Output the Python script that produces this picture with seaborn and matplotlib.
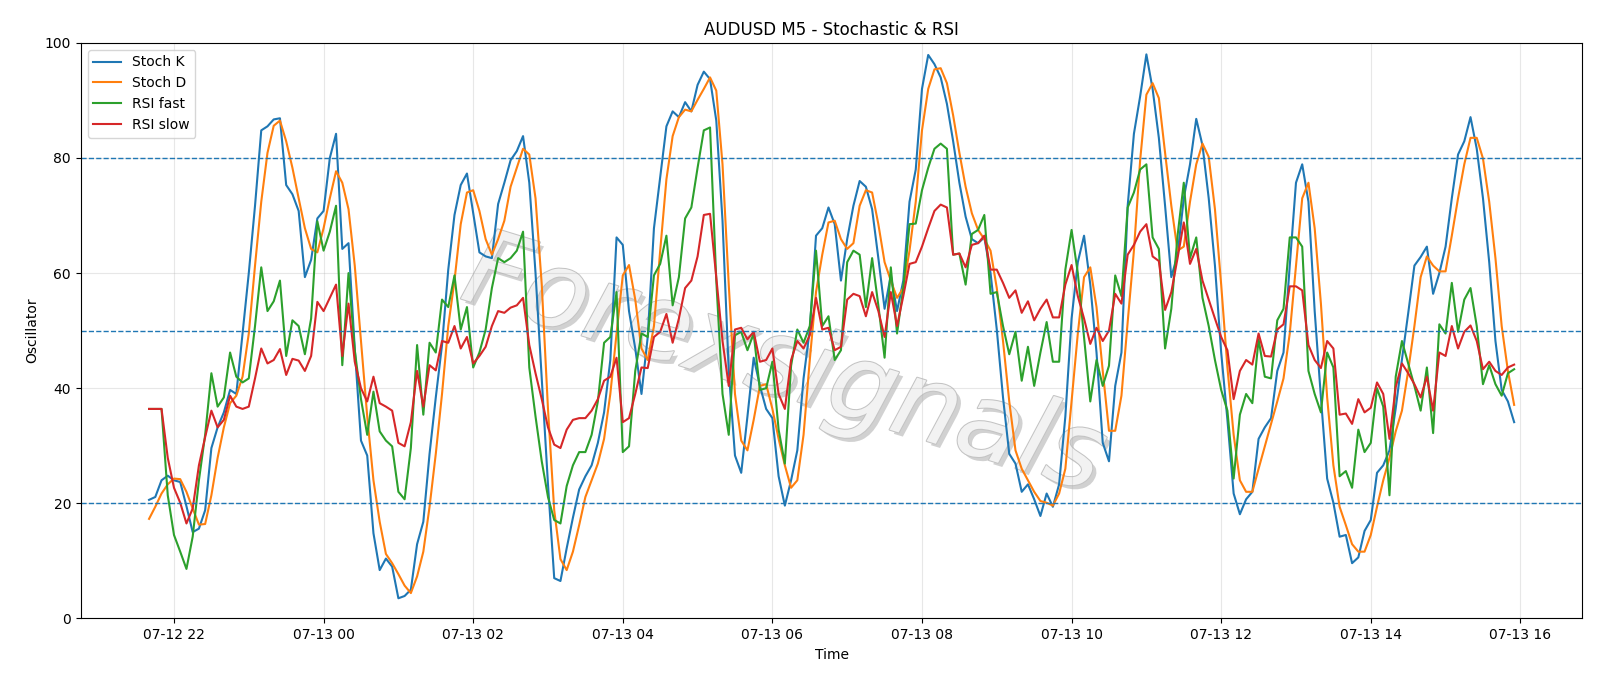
import pandas as pd
import numpy as np
import matplotlib
matplotlib.use('Agg')
import matplotlib.pyplot as plt
import matplotlib.dates as mdates
import matplotlib.patheffects as pe
import seaborn as sns

# M5 bars, 07-12 21:40 -> 07-13 15:55
start_time = '2024-07-12 21:40'
n_bars = 220

stoch_k = [20.6, 21.1, 24, 24.8, 24, 23.7, 19.5, 15, 15.6, 18.8, 29.6, 33.2, 35.8, 39.7, 39, 49.5, 60, 71.7, 84.8, 85.5,
           86.7, 86.9, 75.3, 73.7, 70.8, 59.3, 62.3, 69.5,
           70.8, 80, 84.2, 64.2, 65.2, 46.9, 30.9, 28.3, 14.8, 8.4, 10.4, 9, 3.5, 3.9, 5, 12.9, 16.8, 28.6, 38.4, 47.5,
           60.6, 70.1, 75.3, 77.3, 70.4, 63.6, 62.9, 62.6, 72,
           75.7, 79.6, 81.2, 83.8, 75.7, 60, 41.7, 23.3, 7, 6.5, 12.2, 17.5, 22.4, 24.7, 26.6, 30.5, 35.8, 44.9, 66.2,
           64.9, 53.4, 46.9, 39, 48.9, 67.8, 76.7, 85.5, 88.1, 87.1,
           89.7, 88.1, 92.7, 95, 93.7, 86.5, 69.1, 43, 28.3, 25.3, 35.1, 45.3, 40.4, 36.4, 34.8, 24.7, 19.6, 24, 29.2,
           41.7, 50.2, 66.5, 67.8, 71.4, 68.5, 58.7, 65.9, 71.7, 76,
           75, 71.1, 62.6, 53.8, 59.6, 53.4, 58.7, 72.4, 78, 92, 97.9, 96.3, 94, 89.4, 82.9, 75.7, 69.8, 65.9, 65.2,
           66.2, 60, 50.2, 38.4, 28.6, 26.9, 22, 23.3, 20.7, 17.8,
           21.7, 19.4, 23.3, 35.1, 52.1, 61.9, 66.5, 58, 46.2, 30.5, 27.3, 40.4, 46.2, 71.7, 84.2, 90.7, 98, 92, 83.5,
           71.7, 59.3, 63.2, 73, 78.9, 86.8, 82.2, 73, 61.3,
           46.2, 34.5, 21.7, 18.1, 20.7, 22, 31.2, 33.2, 34.8, 43, 46.2, 61.3, 75.7, 78.9, 72.4, 53.4, 38.4, 24.3, 20.1,
           14.2, 14.5, 9.6, 10.6, 15.2, 17.1, 25.3, 26.6, 29.2, 36.5,
           45, 53, 61.3, 62.8, 64.6, 56.4, 60, 64.6, 73, 80.6, 82.9, 87.1, 81.6, 73, 61.9, 48.2, 39.7, 37.7, 34.1]

stoch_d = [17.3, 19.4, 21.7, 23.3, 24.3, 24.2, 22, 19.1, 16.3, 16.4, 21.4, 27.9, 33.2, 37.4, 38.7, 42, 49.5, 61.3, 72.4,
           80.9, 85.6, 86.5, 82.9, 78.3, 73, 67.8, 64.2, 63.6,
           67.8, 73, 77.7, 75.7, 71.1, 61.3, 48.2, 35.1, 24, 16.8, 11.2, 9.6, 7.7, 5.7, 4.4, 7.3, 11.6, 19.4, 28.6, 39,
           50.8, 58.7, 68.5, 74, 74.4, 70.8, 65.9, 63.2, 65.9,
           69.1, 75, 78.3, 81.6, 80.6, 73, 58, 36.4, 18.8, 10.3, 8.4, 11.6, 16.2, 21.1, 24, 26.9, 31.2, 39, 49.5, 59.6,
           61.4, 55.4, 46.9, 44.9, 50.8, 63.9, 76.3, 83.8, 87.1,
           88.4, 88.1, 90.1, 92, 94, 91.7, 78.9, 58, 39, 30.9, 29.2, 34.5, 40.4, 40.7, 36.4, 31.2, 26.6, 22.7, 24, 31.9,
           44.9, 56.7, 63.2, 68.8, 69.1, 65.9, 64.2, 65.2, 71.7,
           74.4, 74, 68.5, 61.9, 58.7, 55.7, 57.4, 63.9, 72.4, 84.8, 92, 95.4, 95.6, 93, 87.4, 80.9, 75, 70.4, 67.5,
           65.9, 63.9, 57.4, 48.2, 37.7, 29.2, 26, 24, 22, 20.4,
           20.1, 19.6, 21.7, 26, 37.7, 49.5, 59.3, 61, 54.1, 43, 32.6, 32.6, 38.7, 51.5, 63.9, 79.6, 91, 93, 90.4, 80.9,
           71.7, 63.9, 64.6, 72.4, 78.9, 82.5, 80.2, 71.1,
           58, 43.6, 31.9, 24, 22, 22, 26, 29.9, 33.8, 37.7, 41.7, 49.5, 61.3, 73, 75.7, 67.8, 54.7, 38.4, 26.6, 19.4,
           16.2, 12.9, 11.6, 11.6, 14.5, 19.4, 24, 27.9, 32.5,
           36.1, 43, 50.8, 59.3, 62.9, 61.3, 60.3, 60.3, 66.5, 73, 78.9, 83.5, 83.5, 79.9, 72.4, 62.6, 50.8, 43, 37.1]

rsi_fast = [36.4, 36.4, 36.4, 21.4, 14.5, 11.6, 8.6, 14.2, 24, 31.9, 42.6, 36.8, 38.4, 46.2, 42, 41, 41.7, 50.8, 61,
            53.4, 55.1, 58.7, 45.6, 51.8, 50.8, 45.9, 52.1, 69,
            63.9, 67.2, 71.7, 44, 60, 46.6, 38.1, 31.9, 39.4, 32.5, 30.9, 29.9, 22, 20.7, 29.6, 47.5, 35.4, 47.9, 46.2,
            55.4, 54.1, 59.6, 50.2, 54.1, 43.6, 46.2, 50.2, 57.4, 62.6,
            61.9, 62.6, 63.9, 67.2, 43.6, 35.1, 27.3, 21.1, 17.1, 16.5, 23, 26.6, 28.9, 28.9, 31.9, 37.7, 47.9, 48.9,
            56.7, 28.9, 29.9, 43, 49.5, 48.9, 59.6, 61.6, 66.5, 54.4, 59.3,
            69.5, 71.4, 78.3, 84.8, 85.3, 58.7, 39, 31.9, 49.2, 49.8, 46.6, 49.5, 39.7, 40, 44.6, 32.8, 26.9, 43.9,
            50.2, 47.9, 50.8, 63.9, 50.8, 52.5, 44.9, 46.6, 61.9, 63.9, 63.2,
            54.1, 62.6, 54.4, 45.3, 61, 49.5, 57.4, 68.5, 68.6, 74.4, 78.3, 81.6, 82.5, 81.6, 63.2, 63.4, 58, 66.8,
            67.5, 70.1, 56.4, 56.7, 50.8, 45.9, 49.8, 41.3, 47.2, 40.4, 46.2,
            51.5, 44.6, 44.6, 60.6, 67.5, 60, 48.9, 37.7, 44.9, 40.4, 43.9, 59.6, 56, 71.4, 74, 78, 78.9, 66.2, 64.2,
            46.9, 53.8, 66.5, 75.7, 62.6, 66.2, 55.7, 50.8, 44.9,
            39.7, 36.1, 24.3, 35.4, 39, 37.4, 48.5, 42, 41.7, 51.8, 53.8, 66.2, 66.2, 64.6, 43, 39, 35.8, 46.2, 43.6,
            24.7, 25.6, 22.7, 32.8, 28.9, 30.5, 40, 36.8, 21.4, 42,
            48.2, 44.3, 40.4, 36.1, 43.6, 32.2, 51.1, 49.5, 58.3, 49.8, 55.4, 57.4, 50.8, 40.7, 44, 40.7, 38.7, 42.6, 43.3]

rsi_slow = [36.4, 36.4, 36.4, 27.9, 22.7, 20.1, 16.5, 19.1, 26.6, 31.5, 36.1, 33.2, 34.5, 38.7, 36.8, 36.4, 36.8, 41.7,
            46.9, 44.3, 44.9, 46.8, 42.3, 45.1, 44.8, 43, 45.6, 55,
            53.4, 55.7, 58, 45.6, 54.7, 44.6, 40, 37.7, 42, 37.4, 36.8, 36.1, 30.5, 29.9, 34.1, 43, 36.8, 44, 43.1,
            48.2, 47.9, 50.8, 46.9, 48.9, 44.3, 45.6, 47.2, 50.8, 53.4,
            53.1, 54, 54.4, 55.7, 47.5, 42.6, 38.1, 33.2, 30.2, 29.6, 32.8, 34.5, 34.8, 34.8, 36.1, 38.1, 41.3, 42,
            45.3, 34.1, 34.8, 39, 43.6, 43.5, 48.9, 49.8, 52.9, 47.9, 52.1,
            57.4, 58.7, 62.9, 70.1, 70.3, 59.3, 48.2, 40.4, 50.2, 50.5, 48.5, 49.8, 44.6, 44.9, 46.9, 39, 36.4, 44.9,
            48.2, 46.9, 49.2, 55.7, 50.2, 50.5, 46.6, 47.2, 55.4, 56.4, 56,
            52.5, 56.7, 53.4, 48.9, 56.7, 50.8, 56, 61.6, 61.9, 64.6, 67.8, 70.8, 71.9, 71.4, 63.2, 63.4, 61, 64.9,
            65.2, 66.5, 60.6, 60.6, 58.3, 55.7, 57, 53.1, 55.1, 51.8, 53.8,
            55.4, 52.3, 52.3, 58, 61.4, 56, 52.1, 47.7, 50.5, 48.2, 50, 56.4, 54.7, 63.2, 64.9, 67.2, 68.5, 62.9, 62.1,
            53.6, 56.7, 62.6, 68.8, 61.6, 64.2, 58.7, 55.4, 52.1,
            48.9, 46.6, 38.1, 43, 44.9, 44.1, 49.5, 45.6, 45.5, 50.2, 51.1, 57.7, 57.7, 57, 47.5, 44.9, 43.5, 48.2, 46.9,
            35.4, 35.6, 33.8, 38.1, 35.8, 36.6, 41, 39, 31.2, 40.2,
            44.3, 42.6, 40.7, 38.4, 42, 36.1, 46.2, 45.6, 50.8, 46.9, 49.8, 50.9, 48.2, 43.3, 44.6, 43, 42.3, 43.6, 44.1]

levels = [20, 50, 80]

times = pd.date_range(start_time, periods=n_bars, freq='5min')
df = pd.DataFrame({'time': times, 'Stoch K': stoch_k, 'Stoch D': stoch_d,
                   'RSI fast': rsi_fast, 'RSI slow': rsi_slow})

fig, ax = plt.subplots(figsize=(16, 6.86), dpi=100)
fig.subplots_adjust(left=0.0505, right=0.989, top=0.9375, bottom=0.0985)

for col in ['Stoch K', 'Stoch D', 'RSI fast', 'RSI slow']:
    sns.lineplot(data=df, x='time', y=col, label=col, ax=ax, linewidth=1.5)

for lv in levels:
    ax.axhline(lv, linestyle='--', color='tab:blue', linewidth=1)

# watermark, under the lines
ax.text(0.468, 0.437, 'Forexsignals', transform=ax.transAxes, fontsize=76, style='italic',
        color='#f2f2f2', rotation=-17, ha='center', va='center', zorder=1,
        path_effects=[pe.withSimplePatchShadow(offset=(3, -3), shadow_rgbFace='#9a9a9a', alpha=0.45),
                      pe.Stroke(linewidth=1.5, foreground='#c4c4c4'), pe.Normal()])

ax.set_ylim(0, 100)
ax.xaxis.set_major_locator(mdates.HourLocator(byhour=range(0, 24, 2)))
ax.xaxis.set_major_formatter(mdates.DateFormatter('%m-%d %H'))
ax.grid(True, alpha=0.3)
ax.legend(loc='upper left')
ax.set_title('AUDUSD M5 - Stochastic & RSI')
ax.set_xlabel('Time')
ax.set_ylabel('Oscillator')
plt.savefig('out.png')
